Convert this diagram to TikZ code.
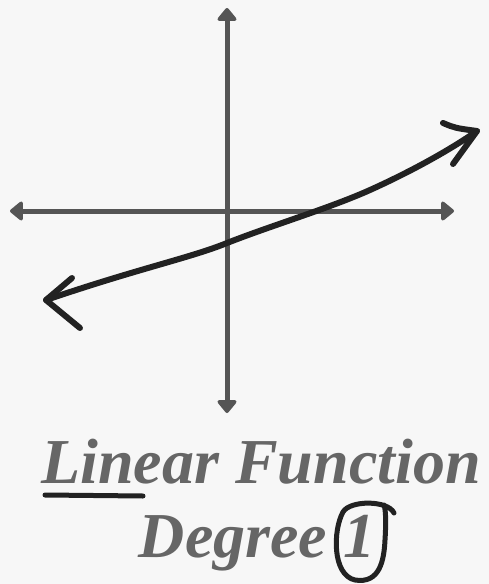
\documentclass[tikz,border=0pt]{standalone}
\usepackage{fontspec}
\setmainfont{Liberation Serif}
\newfontfamily\titlefont{Liberation Serif Bold Italic}
\usetikzlibrary{arrows.meta}
\definecolor{bg}{HTML}{F7F7F7}
\definecolor{axisgray}{HTML}{555555}
\definecolor{ink}{HTML}{222222}
\definecolor{txtgray}{HTML}{666666}
\tikzset{
  axisline/.style={draw=axisgray, line width=5pt, -{Triangle[width=22pt,length=14pt,round]}},
  inkline/.style={draw=ink, line width=6pt, line cap=round, line join=round},
  title/.style={text=txtgray, font=\titlefont\fontsize{64}{70}\selectfont, inner sep=0pt, anchor=base}
}
\begin{document}
\begin{tikzpicture}[x=1pt,y=-1pt]
\fill[bg] (0,0) rectangle (489,584);
\useasboundingbox (0,0) rectangle (489,584);
% axes
\coordinate (o) at (227,211);
\coordinate (top) at (227,8);
\coordinate (bot) at (227,413);
\coordinate (lft) at (10,211);
\coordinate (rgt) at (454,211);
\draw[axisline] (o) -- (top);
\draw[axisline] (o) -- (bot);
\draw[axisline] (o) -- (lft);
\draw[axisline] (o) -- (rgt);
% hand-drawn line
\coordinate (lt) at (46,300);
\coordinate (rt) at (477,131);
\draw[inkline] (lt) .. controls (140,268) and (190,258) .. (227,243)
  .. controls (270,226) and (330,208) .. (370,190)
  .. controls (410,172) and (450,150) .. (rt);
\coordinate (la1) at (72,278);
\coordinate (la2) at (80,328);
\draw[inkline] (la1) -- (lt) -- (la2);
\coordinate (ra1) at (443,123);
\coordinate (ra2) at (453,164);
\draw[inkline] (ra1) .. controls (455,128) .. (rt) -- (ra2);
% text
\node[title] (t1) at (261,483) {Linear Function};
\node[title] (t2) at (257,557) {Degree 1};
\coordinate (u1) at (45,495);
\coordinate (u2) at (143,496);
\draw[inkline, line width=5pt] (u1) -- (u2);
% circle around 1
\coordinate (c0) at (394,513);
\draw[inkline, line width=5pt] (c0) .. controls (388,500) and (350,500) .. (343,512)
  .. controls (333,530) and (332,575) .. (355,580)
  .. controls (380,584) and (384,560) .. (385,540)
  .. controls (386,525) and (386,510) .. (384,505);
\end{tikzpicture}
\end{document}
